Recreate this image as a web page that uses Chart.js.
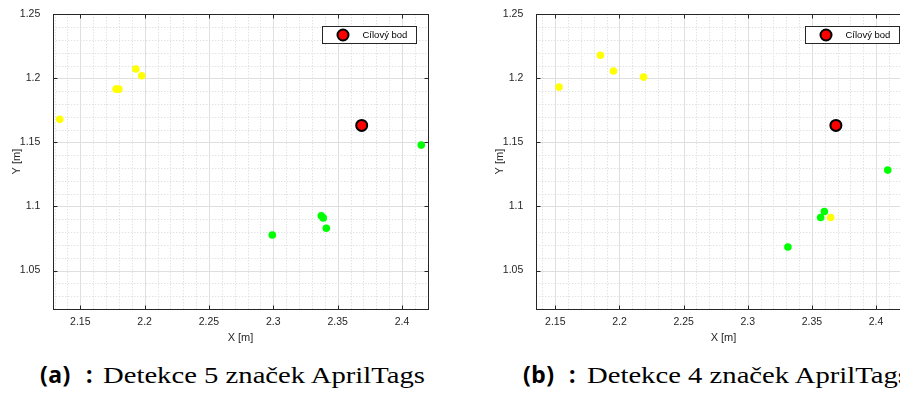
<!DOCTYPE html>
<html><head><meta charset="utf-8">
<script src="https://cdn.jsdelivr.net/npm/chart.js@4"></script>
<style>
html,body{margin:0;padding:0;width:900px;height:394px;overflow:hidden;background:#fff}
body{position:relative}
.cv{position:absolute;top:0;width:450px;height:350px}
#wa{left:0}#wb{left:483px}
.p{position:absolute;white-space:nowrap;line-height:1;color:#000;transform-origin:0 0}
.bold{font-family:'Noto Sans',sans-serif;font-weight:700;font-size:23px;top:362.5px;letter-spacing:0.5px}
.serif{font-family:'Liberation Serif',serif;font-size:23px;top:363.5px}
</style>
</head><body>
<div class="cv" id="wa"><canvas id="ca"></canvas></div>
<div class="cv" id="wb"><canvas id="cb"></canvas></div>
<span class="p bold" id="la" style="left:40px">(a)</span>
<span class="p bold" style="left:86px">:</span>
<span class="p serif" id="sa" style="left:103px">Detekce 5 značek AprilTags</span>
<span class="p bold" id="lb" style="left:523px">(b)</span>
<span class="p bold" style="left:569px">:</span>
<span class="p serif" id="sb" style="left:587px">Detekce 4 značek AprilTags</span>
<script>
// ---- data ----
const targetX = [2.3687];
const targetY = [1.1633];
const aYellowX = [2.134, 2.1778, 2.1799, 2.1931, 2.1977];
const aYellowY = [1.168, 1.1916, 1.1916, 1.2073, 1.202];
const aGreenX = [2.415, 2.2992, 2.3373, 2.3388, 2.3412];
const aGreenY = [1.1479, 1.0778, 1.0927, 1.0911, 1.083];
const bYellowX = [2.1529, 2.1852, 2.1953, 2.2188, 2.3646];
const bYellowY = [1.1932, 1.218, 1.2057, 1.201, 1.0914];
const bGreenX = [2.4091, 2.3313, 2.3568, 2.3597];
const bGreenY = [1.1284, 1.0684, 1.0914, 1.0961];
const xTickLabels = [2.15, 2.2, 2.25, 2.3, 2.35, 2.4];
const yTickLabels = [1.05, 1.1, 1.15, 1.2, 1.25];
const aXRange = [2.129, 2.42];
const bXRange = [2.1352, 2.427];
const yRange = [1.02, 1.25];
const legendLabel = 'Cílový bod';

const pts = (xs, ys) => xs.map((v, i) => ({x: v, y: ys[i]}));
const fmt = v => String(Math.round(v * 100) / 100);
const AX = '#262626';

const matlabAxes = {
  id: 'matlabAxes',
  beforeDatasetsDraw(chart) {
    const {ctx, chartArea: a, scales: {x, y}} = chart;
    ctx.save();
    ctx.beginPath(); ctx.rect(a.left, a.top, a.right - a.left, a.bottom - a.top); ctx.clip();
    const line = (x1, y1, x2, y2) => { ctx.beginPath(); ctx.moveTo(x1, y1); ctx.lineTo(x2, y2); ctx.stroke(); };
    ctx.lineWidth = 1;
    ctx.strokeStyle = '#d6d6d6';
    ctx.setLineDash([1, 2]);
    for (let k = Math.ceil(x.min * 100 - 1e-6); k <= Math.floor(x.max * 100 + 1e-6); k++) {
      if (k % 5 === 0) continue;
      const px = Math.round(x.getPixelForValue(k / 100)) + 0.5;
      line(px, a.top, px, a.bottom);
    }
    for (let k = Math.ceil(y.min * 100 - 1e-6); k <= Math.floor(y.max * 100 + 1e-6); k++) {
      if (k % 5 === 0) continue;
      const py = Math.round(y.getPixelForValue(k / 100)) + 0.5;
      line(a.left, py, a.right, py);
    }
    ctx.setLineDash([]);
    ctx.strokeStyle = '#dfdfdf';
    xTickLabels.forEach(v => { const px = Math.round(x.getPixelForValue(v)) + 0.5; line(px, a.top, px, a.bottom); });
    yTickLabels.forEach(v => { const py = Math.round(y.getPixelForValue(v)) + 0.5; line(a.left, py, a.right, py); });
    ctx.restore();
  },
  afterDatasetsDraw(chart, args, opts) {
    const {ctx, chartArea: a, scales: {x, y}} = chart;
    const L = Math.round(a.left) + 0.5, R = Math.round(a.right) + 0.5;
    const T = Math.round(a.top) + 0.5, B = Math.round(a.bottom) + 0.5;
    ctx.save();
    ctx.strokeStyle = AX; ctx.lineWidth = 1;
    ctx.strokeRect(L, T, R - L, B - T);
    const tl = 4;
    ctx.beginPath();
    xTickLabels.forEach(v => {
      const px = Math.round(x.getPixelForValue(v)) + 0.5;
      ctx.moveTo(px, B); ctx.lineTo(px, B - tl);
      ctx.moveTo(px, T); ctx.lineTo(px, T + tl);
    });
    yTickLabels.forEach(v => {
      const py = Math.round(y.getPixelForValue(v)) + 0.5;
      ctx.moveTo(L, py); ctx.lineTo(L + tl, py);
      ctx.moveTo(R, py); ctx.lineTo(R - tl, py);
    });
    ctx.stroke();
    // legend
    const ds = chart.data.datasets[0];
    const bw = 94, bh = 17;
    const bx = Math.round(a.right - 11.5 - bw) + 0.5, by = Math.round(a.top + 11.5) + 0.5;
    ctx.fillStyle = '#fff';
    ctx.fillRect(bx, by, bw, bh);
    ctx.strokeStyle = AX;
    ctx.strokeRect(bx, by, bw, bh);
    ctx.beginPath();
    ctx.arc(bx + 20.5, by + bh / 2, ds.pointRadius, 0, Math.PI * 2);
    ctx.fillStyle = ds.backgroundColor; ctx.fill();
    ctx.lineWidth = ds.borderWidth; ctx.strokeStyle = ds.borderColor; ctx.stroke();
    ctx.fillStyle = '#000';
    ctx.font = '9.5px "Liberation Sans", Arial, sans-serif';
    ctx.textBaseline = 'middle';
    ctx.textAlign = 'left';
    ctx.fillText(opts.label, bx + 40, by + bh / 2 + 0.5);
    ctx.restore();
  }
};

function makeChart(id, xRange, yellow, green) {
  const tickFont = {family: '"Liberation Sans", Arial, sans-serif', size: 10.5};
  return new Chart(document.getElementById(id), {
    type: 'scatter',
    data: {
      datasets: [
        {label: legendLabel, data: pts(targetX, targetY), backgroundColor: '#ff0000', borderColor: '#000000', borderWidth: 2, pointRadius: 5.5, pointHoverRadius: 5.5},
        {label: 'yellow', data: yellow, backgroundColor: '#ffff00', borderWidth: 0, pointRadius: 3.8, pointHoverRadius: 3.8},
        {label: 'green', data: green, backgroundColor: '#00ff00', borderWidth: 0, pointRadius: 3.8, pointHoverRadius: 3.8}
      ]
    },
    options: {
      responsive: true, maintainAspectRatio: false, animation: false,
      layout: {padding: {top: 14.3, right: 22.3, left: 0, bottom: 0}},
      plugins: {legend: {display: false}, tooltip: {enabled: false}, matlabAxes: {label: legendLabel}},
      events: [],
      scales: {
        x: {
          type: 'linear', min: xRange[0], max: xRange[1],
          afterBuildTicks: s => { s.ticks = xTickLabels.map(v => ({value: v})); },
          afterFit: s => { s.height = 41; },
          grid: {display: false}, border: {display: false},
          ticks: {autoSkip: false, maxRotation: 0, padding: -1, color: AX, font: tickFont, callback: v => fmt(v)},
          title: {display: true, text: 'X [m]', color: AX, font: {family: '"Liberation Sans", Arial, sans-serif', size: 11}, padding: {top: 0, bottom: 5}}
        },
        y: {
          type: 'linear', min: yRange[0], max: yRange[1],
          afterBuildTicks: s => { s.ticks = yTickLabels.map(v => ({value: v})); },
          afterFit: s => { s.width = 53.3; },
          grid: {display: false}, border: {display: false},
          ticks: {autoSkip: false, padding: 5, color: AX, font: tickFont, callback: v => fmt(v)},
          title: {display: true, text: 'Y [m]', color: AX, font: {family: '"Liberation Sans", Arial, sans-serif', size: 11}, padding: {top: 10, bottom: 0}}
        }
      }
    },
    plugins: [matlabAxes]
  });
}

makeChart('ca', aXRange, pts(aYellowX, aYellowY), pts(aGreenX, aGreenY));
makeChart('cb', bXRange, pts(bYellowX, bYellowY), pts(bGreenX, bGreenY));

function fit(id, w) {
  const el = document.getElementById(id);
  const cw = el.getBoundingClientRect().width;
  el.style.transform = 'scaleX(' + (w / cw) + ')';
}
fit('sa', 322);
fit('sb', 322);
</script>
</body></html>
